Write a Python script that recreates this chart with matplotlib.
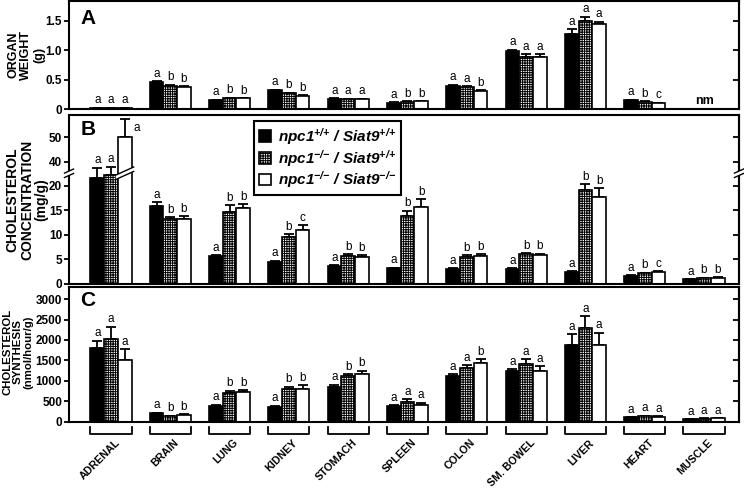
import numpy as np
import matplotlib
matplotlib.use("Agg")
import matplotlib.pyplot as plt
from matplotlib.patches import Polygon
from matplotlib.lines import Line2D

plt.rcParams['font.family'] = ['Liberation Sans', 'DejaVu Sans']
plt.rcParams['mathtext.fontset'] = 'custom'
plt.rcParams['mathtext.rm'] = 'Liberation Sans:bold:italic'
plt.rcParams['mathtext.it'] = 'Liberation Sans:bold:italic'
plt.rcParams['mathtext.bf'] = 'Liberation Sans:bold:italic'
plt.rcParams['hatch.linewidth'] = 0.7

organs = ["ADRENAL", "BRAIN", "LUNG", "KIDNEY", "STOMACH", "SPLEEN",
          "COLON", "SM. BOWEL", "LIVER", "HEART", "MUSCLE"]
groups = [r"npc1$^{{+}/{+}}$ / Siat9$^{{+}/{+}}$",
          r"npc1$^{{-}/{-}}$ / Siat9$^{{+}/{+}}$",
          r"npc1$^{{-}/{-}}$ / Siat9$^{{-}/{-}}$"]

# Panel A: organ weight (g); NaN = not measured
weight_wt   = [0.02, 0.465, 0.153, 0.32, 0.175, 0.107, 0.40, 0.99, 1.283, 0.153, np.nan]
weight_npc  = [0.02, 0.40, 0.187, 0.27, 0.165, 0.125, 0.38, 0.89, 1.50, 0.125, np.nan]
weight_dko  = [0.02, 0.38, 0.18, 0.227, 0.165, 0.13, 0.31, 0.89, 1.443, 0.10, np.nan]
weight_wt_e  = [0.005, 0.012, 0.008, 0.01, 0.008, 0.006, 0.012, 0.02, 0.077, 0.008, np.nan]
weight_npc_e = [0.005, 0.012, 0.008, 0.01, 0.008, 0.006, 0.012, 0.04, 0.07, 0.006, np.nan]
weight_dko_e = [0.005, 0.012, 0.008, 0.01, 0.008, 0.006, 0.012, 0.045, 0.047, 0.006, np.nan]
weight_sig = [["a", "a", "a"], ["a", "b", "b"], ["a", "b", "b"], ["a", "b", "b"],
              ["a", "a", "a"], ["a", "b", "b"], ["a", "a", "b"], ["a", "a", "a"],
              ["a", "a", "a"], ["a", "b", "c"], None]

# Panel B: cholesterol concentration (mg/g)
chol_wt   = [21.7, 15.9, 5.7, 4.5, 3.6, 3.1, 2.97, 2.97, 2.4, 1.6, 0.86]
chol_npc  = [22.2, 13.3, 14.7, 9.5, 5.7, 13.85, 5.5, 6.0, 19.2, 2.1, 1.1]
chol_dko  = [50.0, 13.2, 15.5, 11.0, 5.45, 15.6, 5.7, 5.85, 17.8, 2.3, 1.15]
chol_wt_e  = [15.8, 0.75, 0.15, 0.2, 0.15, 0.15, 0.15, 0.15, 0.12, 0.1, 0.08]
chol_npc_e = [15.7, 0.3, 1.4, 0.6, 0.25, 1.05, 0.25, 0.25, 1.1, 0.15, 0.08]
chol_dko_e = [7.4, 0.6, 0.8, 1.0, 0.4, 1.7, 0.25, 0.25, 1.7, 0.2, 0.1]
chol_sig = [["a", "a", "a"], ["a", "b", "b"], ["a", "b", "b"], ["a", "b", "c"],
            ["a", "b", "b"], ["a", "b", "b"], ["a", "b", "b"], ["a", "b", "b"],
            ["a", "b", "b"], ["a", "b", "c"], ["a", "b", "b"]]

# Panel C: cholesterol synthesis (nmol/hour/g)
synth_wt   = [1809, 200, 380, 363, 853, 380, 1123, 1245, 1875, 103, 54]
synth_npc  = [2022, 135, 690, 797, 1123, 478, 1304, 1402, 2300, 135, 69]
synth_dko  = [1507, 160, 723, 797, 1164, 404, 1441, 1245, 1875, 118, 78]
synth_wt_e  = [171, 15, 30, 20, 49, 20, 41, 42, 270, 8, 5]
synth_npc_e = [302, 10, 65, 56, 34, 73, 81, 130, 286, 10, 5]
synth_dko_e = [263, 12, 49, 98, 81, 57, 83, 108, 302, 10, 5]
synth_sig = [["a", "a", "a"], ["a", "b", "b"], ["a", "b", "b"], ["a", "b", "b"],
             ["a", "b", "b"], ["a", "a", "a"], ["a", "a", "b"], ["a", "a", "a"],
             ["a", "a", "a"], ["a", "a", "a"], ["a", "a", "a"]]

# broken axis mapping for panel B
BRK_LO, BRK_HI, UPPER_SCALE = 22.5, 35.0, 0.5
def fb(v):
    v = np.asarray(v, dtype=float)
    return np.where(v <= BRK_LO, v,
                    np.where(v < BRK_HI, BRK_LO, BRK_LO + (v - BRK_HI) * UPPER_SCALE))

W, H = 744, 488
fig = plt.figure(figsize=(W / 100, H / 100), dpi=100)

def axrect(top, bottom, left=69, right=739):
    return [left / W, 1 - bottom / H, (right - left) / W, (bottom - top) / H]

axA = fig.add_axes(axrect(1, 109))
axB = fig.add_axes(axrect(115, 283.5))
axC = fig.add_axes(axrect(287.3, 421.5))

x = np.arange(len(organs))
bw = 0.231
styles = [dict(facecolor="black", edgecolor="black"),
          dict(facecolor="white", edgecolor="black", hatch="+++++++"),
          dict(facecolor="white", edgecolor="black")]

def draw_panel(ax, series, errs, sig, ytop, transform=None, lab_off=1.0):
    handles = []
    for k, (vals, err) in enumerate(zip(series, errs)):
        vals = np.asarray(vals, float)
        err = np.asarray(err, float)
        xs = x + (k - 1) * bw
        if transform is None:
            h = vals
            top = vals + err
        else:
            h = transform(vals)
            top = transform(vals + err)
        m = ~np.isnan(vals)
        b = ax.bar(xs[m], h[m], width=bw, linewidth=1.2, zorder=2, **styles[k])
        handles.append(b)
        ax.errorbar(xs[m], h[m], yerr=[np.zeros(m.sum()), (top - h)[m]], fmt="none",
                    ecolor="black", elinewidth=1.3, capsize=3.5, capthick=1.3, zorder=1)
        for i in np.where(m)[0]:
            if sig[i] is None:
                continue
            if top[i] > 0.9 * ytop:
                # no room above: put the letter beside the cap
                ax.annotate(sig[i][k], (xs[i], top[i]), xytext=(6, -2),
                            textcoords="offset points", ha="left", va="top",
                            fontsize=8.5, zorder=3)
            else:
                ax.annotate(sig[i][k], (xs[i], top[i]), xytext=(0, lab_off),
                            textcoords="offset points", ha="center", va="bottom",
                            fontsize=8.5, zorder=3)
    return handles

def style_axes(ax):
    for s in ax.spines.values():
        s.set_linewidth(1.5)
    ax.set_xlim(-0.708, 10.59)
    ax.set_xticks([])
    ax.tick_params(axis="y", which="both", left=True, right=False, direction="out",
                   length=3.5, width=1.3, labelsize=8.5, pad=1.5)
    for lab in ax.get_yticklabels():
        lab.set_fontweight("bold")

# Panel A
axA.set_ylim(0, 1.84)
draw_panel(axA, [weight_wt, weight_npc, weight_dko],
           [weight_wt_e, weight_npc_e, weight_dko_e], weight_sig, 1.84)
axA.set_yticks([0, 0.5, 1.0, 1.5])
axA.set_yticklabels(["0", "0.5", "1.0", "1.5"])
style_axes(axA)
axA.text(10, 0.03, "nm", ha="center", va="bottom", fontsize=9, fontweight="bold")

# Panel B
axB.set_ylim(0, 34.55)
hB = draw_panel(axB, [chol_wt, chol_npc, chol_dko],
                [chol_wt_e, chol_npc_e, chol_dko_e], chol_sig, 34.55, transform=fb)
tick_vals = [0, 5, 10, 15, 20, 40, 50]
axB.set_yticks(fb(tick_vals))
axB.set_yticklabels([str(v) for v in tick_vals])
style_axes(axB)

# Panel C
axC.set_ylim(0, 3290)
draw_panel(axC, [synth_wt, synth_npc, synth_dko],
           [synth_wt_e, synth_npc_e, synth_dko_e], synth_sig, 3290)
axC.set_yticks([0, 500, 1000, 1500, 2000, 2500, 3000])
style_axes(axC)

# right-side inward ticks (no label)
for ax in (axA, axB, axC):
    sec = ax.secondary_yaxis("right")
    sec.set_yticks([t for t in ax.get_yticks() if t > 0])
    sec.tick_params(direction="in", length=4, width=1.3, labelright=False)
    sec.spines["right"].set_linewidth(1.5)

# break marks on panel B (left & right spine and tall white bar)
def break_mark(ax, xc, half_w_px, yc):
    inv = ax.transData.inverted()
    disp_c = ax.transData.transform((xc, yc))
    pts = []
    gap = 2.2
    slope = 0.45
    for dy in (-gap, gap):
        p1 = disp_c + np.array([-half_w_px, dy - slope * half_w_px])
        p2 = disp_c + np.array([half_w_px, dy + slope * half_w_px])
        pts.append((p1, p2))
    poly = [pts[0][0], pts[0][1], pts[1][1], pts[1][0]]
    poly_d = inv.transform(np.array(poly))
    ax.add_patch(Polygon(poly_d, closed=True, facecolor="white", edgecolor="none",
                         zorder=5, clip_on=False))
    for p1, p2 in pts:
        d = inv.transform(np.array([p1, p2]))
        ax.add_line(Line2D(d[:, 0], d[:, 1], color="black", lw=1.0, zorder=6,
                           clip_on=False))

fig.canvas.draw()
break_mark(axB, axB.get_xlim()[0], 4.5, 22.6)
break_mark(axB, axB.get_xlim()[1], 4.5, 22.6)
break_mark(axB, x[0] + bw, 9, 22.6)

# legend
leg = axB.legend(hB, groups, loc="upper left", bbox_to_anchor=(0.276, 0.962),
                 frameon=True, fancybox=False, edgecolor="black", framealpha=1,
                 prop=dict(size=11, weight="bold", style="italic"),
                 handlelength=0.8, handleheight=0.8, handletextpad=0.5,
                 labelspacing=0.05, borderpad=0.3, borderaxespad=0)
leg.get_frame().set_linewidth(1.5)
leg.set_zorder(10)

# panel letters
for ax, letter in ((axA, "A"), (axB, "B"), (axC, "C")):
    ax.text(0.017, 0.97 if letter != "A" else 0.93, letter, transform=ax.transAxes,
            ha="left", va="top", fontsize=15, fontweight="bold")

# y labels
fig.text(26 / W, 1 - 55 / H, "ORGAN\nWEIGHT\n(g)", rotation=90, ha="center",
         va="center", fontsize=9, fontweight="bold", linespacing=1.1)
fig.text(27 / W, 1 - 200 / H, "CHOLESTEROL\nCONCENTRATION\n(mg/g)", rotation=90,
         ha="center", va="center", fontsize=10, fontweight="bold", linespacing=1.05)
fig.text(18 / W, 1 - 352 / H, "CHOLESTEROL\nSYNTHESIS\n(nmol/hour/g)", rotation=90,
         ha="center", va="center", fontsize=8.2, fontweight="bold", linespacing=1.1)

# bottom brackets and organ labels
tr = axC.get_xaxis_transform()
y1, y2 = -0.041, -0.093
for i, name in enumerate(organs):
    xl, xr = x[i] - 0.346, x[i] + 0.346
    axC.add_line(Line2D([xl, xl, xr, xr], [y1, y2, y2, y1], transform=tr,
                        color="black", lw=1.3, clip_on=False))
    axC.text(x[i] + 0.06, -0.12, name, transform=tr, rotation=45,
             rotation_mode="anchor", ha="right", va="top", fontsize=7.7,
             fontweight="bold")

fig.savefig("out.png", dpi=100)
